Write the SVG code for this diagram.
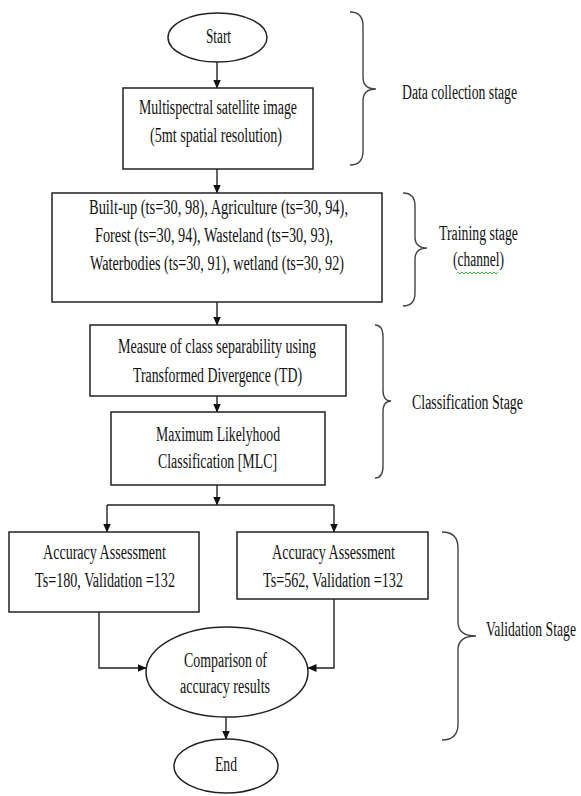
<svg xmlns="http://www.w3.org/2000/svg" width="581" height="796" viewBox="0 0 581 796">
<style>
.n{fill:#fff;stroke:#222;stroke-width:1.5}
.t{font-family:"Liberation Serif","Times New Roman",serif;font-size:20px;fill:#111}
.c{fill:none;stroke:#222;stroke-width:1.4}
.b{fill:none;stroke:#444;stroke-width:1.4}
</style>
<defs>
<marker id="ah" markerWidth="9" markerHeight="8" refX="8.5" refY="4" orient="auto" markerUnits="userSpaceOnUse">
<path d="M0,0 L9,4 L0,8 Z" fill="#111"/>
</marker>
</defs>
<rect width="581" height="796" fill="#fff"/>
<g id="connectors">
<line class="c" x1="217" y1="62" x2="217" y2="88" marker-end="url(#ah)"/>
<line class="c" x1="217" y1="169" x2="217" y2="193" marker-end="url(#ah)"/>
<line class="c" x1="217" y1="302" x2="217" y2="325" marker-end="url(#ah)"/>
<line class="c" x1="217" y1="396" x2="217" y2="412" marker-end="url(#ah)"/>
<line class="c" x1="217" y1="485" x2="217" y2="505" marker-end="url(#ah)"/>
<line class="c" x1="107" y1="505" x2="334" y2="505"/>
<line class="c" x1="107" y1="505" x2="107" y2="532" marker-end="url(#ah)"/>
<line class="c" x1="334" y1="505" x2="334" y2="532" marker-end="url(#ah)"/>
<polyline class="c" points="99,612 99,668 146,668" marker-end="url(#ah)"/>
<polyline class="c" points="334,599 334,668 308,668" marker-end="url(#ah)"/>
<line class="c" x1="226" y1="717" x2="226" y2="739" marker-end="url(#ah)"/>
</g>
<g id="start">
<ellipse class="n" cx="217.5" cy="37.5" rx="49.5" ry="24.5"/>
<text class="t" x="206" y="43" textLength="25" lengthAdjust="spacingAndGlyphs">Start</text>
</g>
<g id="image">
<rect class="n" x="123" y="88" width="190" height="81"/>
<text class="t" x="139" y="114" textLength="158" lengthAdjust="spacingAndGlyphs">Multispectral satellite image</text>
<text class="t" x="150" y="142" textLength="132" lengthAdjust="spacingAndGlyphs">(5mt spatial resolution)</text>
</g>
<g id="training">
<rect class="n" x="52" y="193" width="330" height="109"/>
<text class="t" x="89" y="214" textLength="259" lengthAdjust="spacingAndGlyphs">Built-up (ts=30, 98), Agriculture (ts=30, 94),</text>
<text class="t" x="95" y="242" textLength="238" lengthAdjust="spacingAndGlyphs">Forest (ts=30, 94), Wasteland (ts=30, 93),</text>
<text class="t" x="90" y="270" textLength="254" lengthAdjust="spacingAndGlyphs">Waterbodies (ts=30, 91), wetland (ts=30, 92)</text>
</g>
<g id="separability">
<rect class="n" x="90" y="325" width="256" height="71"/>
<text class="t" x="118" y="353" textLength="198" lengthAdjust="spacingAndGlyphs">Measure of class separability  using</text>
<text class="t" x="133" y="382" textLength="169" lengthAdjust="spacingAndGlyphs">Transformed Divergence (TD)</text>
</g>
<g id="mlc">
<rect class="n" x="111" y="412" width="214" height="73"/>
<text class="t" x="156" y="441" textLength="124" lengthAdjust="spacingAndGlyphs">Maximum Likelyhood</text>
<text class="t" x="158" y="468" textLength="119" lengthAdjust="spacingAndGlyphs">Classification [MLC]</text>
</g>
<g id="acc1">
<rect class="n" x="9" y="532" width="190" height="80"/>
<text class="t" x="43" y="559" textLength="123" lengthAdjust="spacingAndGlyphs">Accuracy Assessment</text>
<text class="t" x="35" y="587" textLength="140" lengthAdjust="spacingAndGlyphs">Ts=180, Validation =132</text>
</g>
<g id="acc2">
<rect class="n" x="237" y="532" width="191" height="67"/>
<text class="t" x="272" y="559" textLength="123" lengthAdjust="spacingAndGlyphs">Accuracy Assessment</text>
<text class="t" x="263" y="587" textLength="140" lengthAdjust="spacingAndGlyphs">Ts=562, Validation =132</text>
</g>
<g id="compare">
<ellipse class="n" cx="227" cy="672" rx="81" ry="45"/>
<text class="t" x="184" y="667" textLength="83" lengthAdjust="spacingAndGlyphs">Comparison of</text>
<text class="t" x="180" y="693" textLength="90" lengthAdjust="spacingAndGlyphs">accuracy results</text>
</g>
<g id="end">
<ellipse class="n" cx="226" cy="766" rx="52" ry="27"/>
<text class="t" x="215" y="771" textLength="22" lengthAdjust="spacingAndGlyphs">End</text>
</g>
<g id="stage-data">
<path class="b" d="M350,12 Q363,12 363,26 L363,77 Q363,89 376,89 Q363,89 363,101 L363,151 Q363,165 350,165"/>
<text class="t" x="402" y="99" textLength="115" lengthAdjust="spacingAndGlyphs">Data collection  stage</text>
</g>
<g id="stage-training">
<path class="b" d="M403,193 Q415,193 415,206 L415,237 Q415,248 427,248 Q415,248 415,259 L415,293 Q415,306 403,306"/>
<text class="t" x="439" y="240" textLength="79" lengthAdjust="spacingAndGlyphs">Training stage</text>
<text class="t" x="453" y="266" textLength="51" lengthAdjust="spacingAndGlyphs">(channel)</text>
<path d="M458,272 l2,2 l2,-2 l2,2 l2,-2 l2,2 l2,-2 l2,2 l2,-2 l2,2 l2,-2 l2,2 l2,-2 l2,2 l2,-2 l2,2 l2,-2 l2,2 l2,-2 l2,2 l2,-2" fill="none" stroke="#3a3" stroke-width="1"/>
</g>
<g id="stage-classification">
<path class="b" d="M375,325 Q383,325 383,337 L383,390 Q383,401 391,401 Q383,401 383,412 L383,466 Q383,478 375,478"/>
<text class="t" x="412" y="409" textLength="111" lengthAdjust="spacingAndGlyphs">Classification Stage</text>
</g>
<g id="stage-validation">
<path class="b" d="M442,532 Q458,532 458,548 L458,622 Q458,636 476,636 Q458,636 458,650 L458,724 Q458,740 442,740"/>
<text class="t" transform="translate(486,636) scale(1,1.43)" x="0" y="0" style="font-size:14px" textLength="90" lengthAdjust="spacingAndGlyphs">Validation Stage</text>
</g>
</svg>
